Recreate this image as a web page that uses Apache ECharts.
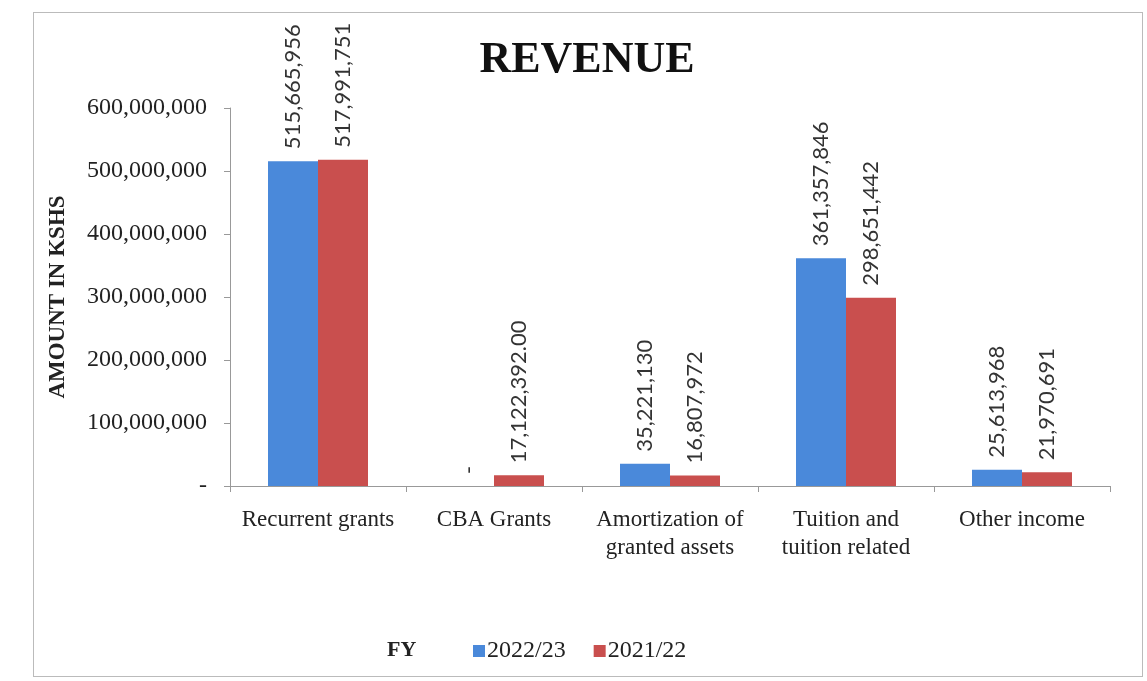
<!DOCTYPE html>
<html>
<head>
<meta charset="utf-8">
<script src="https://cdn.jsdelivr.net/npm/echarts@6/dist/echarts.min.js"></script>
<style>
  html, body { margin: 0; padding: 0; background: #fff; }
  #chart { width: 1147px; height: 681px; position: relative; }
  .frame {
    position: absolute; left: 33px; top: 12px; width: 1110px; height: 665px;
    border: 1px solid #bbb; box-sizing: border-box; pointer-events: none;
  }
</style>
</head>
<body>
<div id="chart"></div>
<div class="frame"></div>
<script>
// categories and values
const categories = [
  'Recurrent grants',
  'CBA Grants',
  'Amortization of\ngranted assets',
  'Tuition and\ntuition related',
  'Other income'
]
const fy2023 = [515665956, 0, 35221130, 361357846, 25613968]
const fy2022 = [517991751, 17122392, 16807972, 298651442, 21970691]
const seriesNames = ['2022/23', '2021/22']
const yTicks = [0, 100000000, 200000000, 300000000, 400000000, 500000000, 600000000]

const serif = '"Liberation Serif", "DejaVu Serif", serif'
const fmt = (v) => (v === 0 ? '-' : v.toLocaleString('en-US'))

const chart = echarts.init(document.getElementById('chart'))

const labelStyle = {
  show: true,
  position: 'top',
  rotate: 90,
  align: 'left',
  verticalAlign: 'middle',
  distance: 12,
  fontFamily: 'Lato, "Open Sans", sans-serif',
  fontSize: 22,
  color: '#333'
}

chart.setOption({
  animation: false,
  title: [
    {
      text: 'REVENUE',
      left: 582,
      top: 34,
      textAlign: 'center',
      textStyle: { fontFamily: serif, fontSize: 44, fontWeight: 'bold', color: '#111' }
    },
    {
      text: 'FY',
      left: 382,
      top: 634,
      textStyle: { fontFamily: serif, fontSize: 22, fontWeight: 'bold', color: '#222' }
    }
  ],
  legend: {
    data: seriesNames,
    left: 468,
    top: 634,
    icon: 'rect',
    itemWidth: 12,
    itemHeight: 12,
    itemGap: 28,
    textStyle: { fontFamily: serif, fontSize: 24, color: '#222', padding: [0, 0, 0, -3] }
  },
  grid: { left: 230, right: 37, top: 108, bottom: 195 },
  xAxis: {
    type: 'category',
    data: categories,
    axisLine: { lineStyle: { color: '#999' } },
    axisTick: { show: true, length: 6, lineStyle: { color: '#999' } },
    axisLabel: {
      fontFamily: serif,
      fontSize: 23,
      color: '#222',
      margin: 20,
      lineHeight: 28,
      interval: 0
    }
  },
  yAxis: {
    type: 'value',
    min: 0,
    max: 600000000,
    interval: 100000000,
    name: 'AMOUNT IN KSHS',
    nameLocation: 'middle',
    nameGap: 160,
    nameTextStyle: { fontFamily: serif, fontSize: 23, fontWeight: 'bold', color: '#222' },
    axisLine: { show: true, lineStyle: { color: '#999' } },
    axisTick: { show: true, length: 6, lineStyle: { color: '#999' } },
    splitLine: { show: false },
    axisLabel: {
      fontFamily: serif,
      fontSize: 24,
      color: '#222',
      margin: 23,
      formatter: (v) => (yTicks.includes(v) ? fmt(v) : '')
    }
  },
  series: [
    {
      name: seriesNames[0],
      type: 'bar',
      data: fy2023,
      barWidth: 50,
      barGap: '0%',
      itemStyle: { color: '#4A89DA' },
      label: { ...labelStyle, formatter: (p) => fmt(p.value) }
    },
    {
      name: seriesNames[1],
      type: 'bar',
      data: fy2022,
      barWidth: 50,
      barGap: '0%',
      itemStyle: { color: '#C94F4E' },
      label: {
        ...labelStyle,
        formatter: (p) => (p.dataIndex === 1 ? '17,122,392.00' : fmt(p.value))
      }
    }
  ]
})
</script>
</body>
</html>
